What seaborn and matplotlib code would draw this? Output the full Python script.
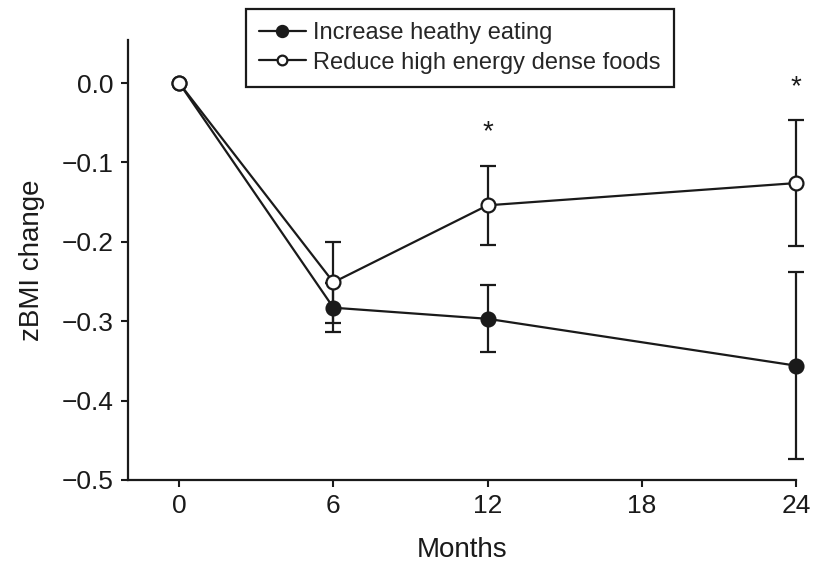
import matplotlib
matplotlib.use("Agg")
import matplotlib.pyplot as plt
import seaborn as sns
import pandas as pd
from matplotlib.lines import Line2D

# Mean zBMI change and its error at each follow-up visit
months = [0, 6, 12, 24]
healthy_mean = [0.0, -0.283, -0.297, -0.356]
healthy_err = [0.0, 0.031, 0.042, 0.118]
reduce_mean = [0.0, -0.251, -0.154, -0.126]
reduce_err = [0.0, 0.051, 0.050, 0.079]
series_names = ["Increase heathy eating", "Reduce high energy dense foods"]
x_ticks = [0, 6, 12, 18, 24]
y_ticks = [0.0, -0.1, -0.2, -0.3, -0.4, -0.5]
significant_months = [12, 24]
star_offsets = [0.092, 0.121]

sns.set_theme(style="ticks")
plt.rcParams["font.family"] = ["Liberation Sans", "DejaVu Sans"]

fig = plt.figure(figsize=(8.14, 5.66), dpi=100)
ax = fig.add_axes([0.157, 0.152, 0.821, 0.777])

df_h = pd.DataFrame({"month": months, "z": healthy_mean})
df_r = pd.DataFrame({"month": months, "z": reduce_mean})

ink = "#1a1a1a"
lw = 1.6
# error bars (skip baseline, which has no spread)
ax.errorbar(months[1:], healthy_mean[1:], yerr=healthy_err[1:], fmt="none",
            ecolor=ink, elinewidth=lw, capsize=5.8, capthick=lw,
            zorder=2, clip_on=False)
ax.errorbar(months[1:], reduce_mean[1:], yerr=reduce_err[1:], fmt="none",
            ecolor=ink, elinewidth=lw, capsize=5.8, capthick=lw,
            zorder=2, clip_on=False)

sns.lineplot(data=df_h, x="month", y="z", ax=ax, color=ink, lw=lw,
             marker="o", markersize=10, markerfacecolor=ink,
             markeredgecolor=ink, markeredgewidth=lw, zorder=3,
             clip_on=False)
sns.lineplot(data=df_r, x="month", y="z", ax=ax, color=ink, lw=lw,
             marker="o", markersize=10, markerfacecolor="white",
             markeredgecolor=ink, markeredgewidth=lw, zorder=4,
             clip_on=False)

# significance markers above the second group
for m, off in zip(significant_months, star_offsets):
    i = months.index(m)
    ax.text(m, reduce_mean[i] + off, "*", ha="center", va="center",
            fontsize=20, color=ink)

ax.set_xlim(-2, 24)
ax.set_ylim(-0.5, 0.054)
ax.set_xticks(x_ticks)
ax.set_xticklabels([str(t) for t in x_ticks])
ax.set_yticks(y_ticks)
ax.set_yticklabels([f"{t:.1f}".replace("-", "\u2212") for t in y_ticks])
ax.set_xlabel("Months", fontsize=20, labelpad=14, color=ink)
ax.set_ylabel("zBMI change", fontsize=20, labelpad=12, color=ink)

for side in ["top", "right"]:
    ax.spines[side].set_visible(False)
for side in ["left", "bottom"]:
    ax.spines[side].set_linewidth(1.6)
    ax.spines[side].set_color(ink)
ax.tick_params(axis="both", direction="out", length=5, width=1.5,
               labelsize=19, colors=ink, pad=5)

handles = [
    Line2D([], [], color=ink, lw=lw, marker="o", markersize=8,
           markerfacecolor=ink, markeredgewidth=lw),
    Line2D([], [], color=ink, lw=lw, marker="o", markersize=7,
           markerfacecolor="white", markeredgewidth=lw),
]
leg = fig.legend(handles, series_names, loc="upper left",
                 bbox_to_anchor=(0.302, 0.984), fontsize=17, frameon=True,
                 fancybox=False, framealpha=1, edgecolor=ink,
                 borderpad=0.55, handlelength=2.0, handletextpad=0.3,
                 labelspacing=0.32, borderaxespad=0)
leg.get_frame().set_linewidth(1.6)

fig.savefig("out.png", dpi=100)
